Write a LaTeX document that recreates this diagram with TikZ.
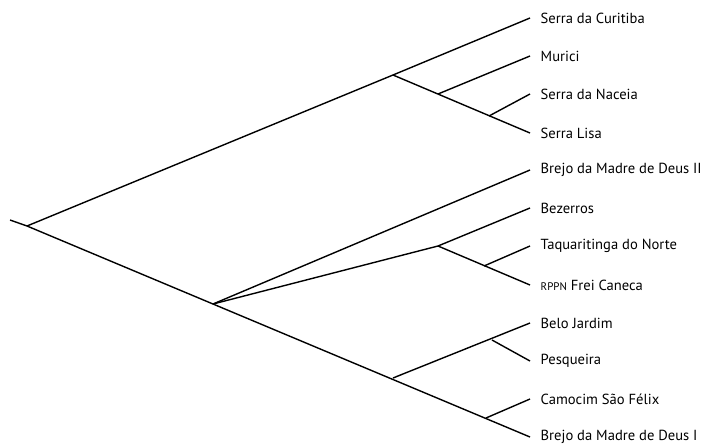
\documentclass[tikz,border=0pt]{standalone}
\usepackage{fontspec}
\setmainfont{PT Sans}
\usepackage{tikz}

\begin{document}
\begin{tikzpicture}[x=1pt,y=-1pt,line width=1.4pt,
    taxon/.style={anchor=west,inner xsep=10pt,inner ysep=0pt,font=\fontsize{14.6}{16}\selectfont}]
        \useasboundingbox (0,0) rectangle (715,445);
        % leaves
        \node[taxon] (curitiba) at (530,18) {Serra da Curitiba};
        \node[taxon] (murici) at (530,56) {Murici};
        \node[taxon] (naceia) at (530,94) {Serra da Naceia};
        \node[taxon] (lisa) at (530,133) {Serra Lisa};
        \node[taxon] (brejoii) at (530,170) {Brejo da Madre de Deus II};
        \node[taxon] (bezerros) at (530,208) {Bezerros};
        \node[taxon] (taquaritinga) at (530,246) {Taquaritinga do Norte};
        \node[taxon] (rppn) at (530,285) {{\fontsize{11}{12}\selectfont RPPN} Frei Caneca};
        \node[taxon] (belo) at (530,323) {Belo Jardim};
        \node[taxon] (pesqueira) at (530,361) {Pesqueira};
        \node[taxon] (camocim) at (530,399) {Camocim São Félix};
        \node[taxon] (brejoi) at (530,437) {Brejo da Madre de Deus I};
        % internal nodes
        \coordinate (stem) at (10,220);
        \coordinate (root) at (27,226);
        \coordinate (north) at (393,75);
        \coordinate (nmur) at (438,94);
        \coordinate (nnac) at (489,116);
        \coordinate (south) at (213,304);
        \coordinate (nbez) at (438,246);
        \coordinate (ntaq) at (484,266);
        \coordinate (nbelo) at (393,378);
        \coordinate (npes) at (492,340);
        \coordinate (ncam) at (486,418);
        % branches
        \draw (stem)--(root)--(north)--(curitiba.west);
        \draw (north)--(lisa.west);
        \draw (nmur)--(murici.west);
        \draw (nnac)--(naceia.west);
        \draw (root)--(south)--(brejoii.west);
        \draw (south)--(nbez)--(bezerros.west);
        \draw (nbez)--(rppn.west);
        \draw (ntaq)--(taquaritinga.west);
        \draw (south)--(brejoi.west);
        \draw (nbelo)--(belo.west);
        \draw (npes)--(pesqueira.west);
        \draw (ncam)--(camocim.west);
\end{tikzpicture}
\end{document}
